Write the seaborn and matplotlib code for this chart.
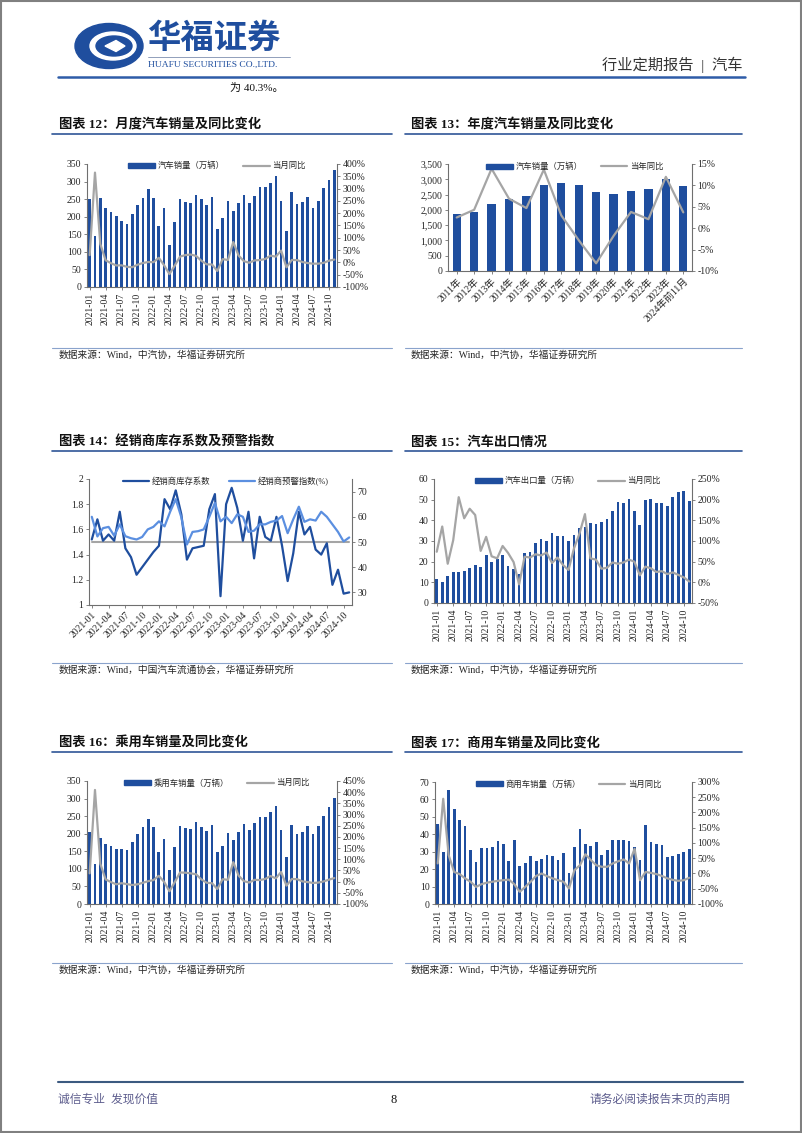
import numpy as np
import matplotlib
matplotlib.use('Agg')
import matplotlib.pyplot as plt
import seaborn as sns
from matplotlib.patches import Patch, Ellipse, Rectangle, Polygon
from matplotlib.lines import Line2D
from matplotlib.ticker import FuncFormatter, MultipleLocator

sns.set_style('ticks')
plt.rcParams['font.family'] = ['Liberation Serif', 'Noto Sans CJK SC']
plt.rcParams['axes.unicode_minus'] = False

BLUE = '#1f4e9e'
GRAY = '#a5a5a5'
LIGHT = '#5b8fe0'

# ---- data ----
months = [f'{y}-{m:02d}' for y in range(2021, 2025) for m in range(1, 13)][:47]
tick_months = months[::3]

# 图表12 汽车销量(万辆) / 当月同比(%)
car_sales = [250.3, 145.5, 252.6, 225.2, 212.8, 201.5, 186.4, 179.9, 206.7, 233.2, 252.2, 278.6,
             253.1, 173.7, 223.4, 118.1, 186.2, 250.2, 242.0, 238.3, 261.0, 250.5, 232.6, 255.6,
             164.9, 197.6, 245.1, 215.9, 238.2, 262.2, 238.7, 258.2, 285.8, 285.3, 297.0, 315.6,
             243.9, 158.4, 269.4, 235.9, 241.7, 255.3, 226.2, 245.3, 280.9, 305.3, 331.7]
car_yoy = [29.5, 365.0, 74.9, 8.6, -3.1, -12.4, -11.9, -17.8, -19.6, -9.4, -2.5, 1.6,
           0.9, 18.7, -11.7, -47.6, -12.6, 23.8, 29.7, 32.1, 26.4, 6.9, -7.9, -8.4,
           -35.0, 13.5, 9.7, 82.7, 27.9, 4.8, -1.4, 8.2, 9.5, 13.8, 27.4, 23.5,
           47.9, -19.9, 9.9, 9.3, 1.5, -2.7, -5.2, -5.0, -1.7, 7.0, 11.7]

# 图表13 年度汽车销量
years = ['2011年', '2012年', '2013年', '2014年', '2015年', '2016年', '2017年', '2018年',
         '2019年', '2020年', '2021年', '2022年', '2023年', '2024年前11月']
annual_sales = [1850.5, 1930.6, 2198.4, 2349.2, 2459.8, 2802.8, 2887.9, 2808.1,
                2576.9, 2531.1, 2627.5, 2686.4, 3009.4, 2790.0]
annual_yoy = [2.5, 4.3, 13.9, 6.9, 4.7, 13.7, 3.0, -2.8, -8.2, -1.8, 3.8, 2.1, 12.0, 3.7]

# 图表14 经销商库存系数 / 预警指数
inventory = [1.52, 1.68, 1.51, 1.56, 1.51, 1.74, 1.45, 1.38, 1.24, 1.30, 1.36, 1.42,
             1.47, 1.84, 1.76, 1.91, 1.72, 1.36, 1.45, 1.46, 1.47, 1.76, 1.88, 1.07,
             1.80, 1.93, 1.77, 1.51, 1.74, 1.37, 1.70, 1.54, 1.51, 1.70, 1.47, 1.19,
             1.41, 1.74, 1.56, 1.62, 1.44, 1.40, 1.49, 1.16, 1.28, 1.09, 1.10]
warn_index = [60.0, 52.2, 55.5, 56.0, 52.5, 57.0, 52.3, 51.5, 51.0, 52.0, 55.0, 56.0,
              58.2, 56.2, 62.0, 67.0, 59.8, 49.0, 54.0, 54.3, 55.0, 60.0, 65.5, 58.2,
              60.0, 57.5, 61.0, 60.0, 54.0, 54.5, 57.0, 57.0, 58.0, 58.5, 60.3, 53.5,
              59.0, 64.0, 58.0, 59.0, 58.5, 62.0, 60.0, 57.0, 54.0, 50.2, 51.8]
warn_line = 1.5

# 图表15 汽车出口量(万辆) / 当月同比
export = [11.7, 10.3, 13.1, 14.9, 15.0, 15.5, 17.0, 18.6, 17.2, 23.2, 19.9, 21.5,
          23.1, 18.0, 16.6, 13.8, 24.2, 24.9, 28.8, 30.8, 30.1, 33.7, 32.5, 32.3,
          30.1, 32.9, 36.1, 37.0, 38.6, 38.0, 39.3, 40.7, 44.4, 48.9, 48.4, 50.1,
          44.3, 37.9, 50.0, 50.3, 48.5, 48.5, 46.9, 51.3, 53.9, 54.3, 49.3]
export_yoy = [74, 135, 45, 102, 206, 155, 178, 163, 76, 110, 63, 58,
              88, 71, 49, -5, 62, 60, 68, 65, 72, 47, 60, 42,
              30, 82, 118, 165, 58, 55, 33, 35, 48, 45, 48, 55,
              50, 17, 38, 34, 25, 27, 20, 24, 18, 12, 2]

# 图表16 乘用车销量
pv_sales = [204.4, 114.8, 187.7, 170.3, 164.8, 156.1, 155.1, 154.7, 175.5, 200.6, 219.9, 242.4,
            218.6, 148.7, 186.3, 96.5, 161.2, 222.2, 217.4, 212.6, 233.2, 220.4, 207.9, 224.9,
            147.4, 164.9, 201.6, 180.8, 204.2, 226.7, 209.5, 229.2, 248.4, 247.8, 260.8, 279.8,
            211.3, 134.8, 225.5, 199.9, 205.6, 222.1, 197.9, 221.0, 251.3, 275.0, 301.6]
pv_yoy = [37, 410, 80, 10, -2, -12, -7, -11, -15, -12, -5, 2,
          7, 26, -1, -43, -2, 41, 40, 37, 33, 10, -5, -7,
          -33, 11, 8, 87, 27, 2, -4, 8, 7, 12, 25, 15,
          43, -18, 12, 11, 1, -2, -6, -4, 1, 9, 16]

# 图表17 商用车销量
cv_sales = [45.8, 29.8, 65.2, 54.7, 48.1, 44.6, 30.9, 24.2, 31.9, 32.2, 32.8, 36.0,
            34.7, 24.8, 37.0, 21.7, 23.7, 27.8, 24.6, 26.1, 28.0, 27.5, 25.2, 29.0,
            17.9, 32.5, 43.3, 34.7, 33.0, 35.3, 28.4, 30.9, 37.0, 36.6, 36.6, 36.4,
            32.5, 25.2, 45.6, 35.7, 34.3, 33.6, 27.1, 27.5, 28.6, 29.9, 31.8]
cv_yoy = [33, 245, 60, 5, -2, -16, -27, -44, -35, -30, -27, -24,
          -22, -20, -35, -60, -44, -27, -8, 0, -9, -16, -22, -27,
          -49, 11, 27, 63, 44, 27, 22, 22, 33, 40, 46, 33,
          81, -22, 5, 2, -2, -8, -16, -21, -24, -22, -14]

# ---- figure ----
W, H = 802, 1133
fig = plt.figure(figsize=(W / 100, H / 100), dpi=100)
page = fig.add_axes([0, 0, 1, 1])
page.set_xlim(0, W)
page.set_ylim(H, 0)
page.axis('off')


def box(l, t, r, b):
    return fig.add_axes([l / W, 1 - b / H, (r - l) / W, (b - t) / H])


def style(ax, ax2):
    for a in (ax, ax2):
        a.spines['top'].set_visible(False)
        for s in a.spines.values():
            s.set_color('#6f6f6f')
            s.set_linewidth(0.8)
        a.tick_params(direction='out', length=2.5, width=0.6, color='#6f6f6f',
                      labelcolor='#262626', labelsize=7, pad=1.5)
        a.set_xlabel('')
        a.set_ylabel('')
    ax.spines['right'].set_visible(False)
    ax2.spines['left'].set_visible(False)
    ax2.spines['bottom'].set_visible(False)


def add_legend(ax, handles, labels):
    ax.legend(handles, labels, loc='upper center', bbox_to_anchor=(0.52, 1.045), ncol=2,
              frameon=False, prop={'size': 6}, handlelength=3.2, handleheight=0.5,
              columnspacing=2.2, handletextpad=0.3, borderaxespad=0)


def pct(v, p):
    return f'{v:.0f}%'


def monthly_bars(pos, sales, yoy, bar_name, ylim, ystep, y2lim, y2step):
    ax = box(*pos)
    sns.barplot(x=months, y=sales, color=BLUE, saturation=1, width=0.5, errorbar=None,
                linewidth=0, ax=ax)
    ax2 = ax.twinx()
    sns.lineplot(x=np.arange(len(months)), y=yoy, color=GRAY, lw=1.6, ax=ax2)
    ax.set_xlim(-0.5, len(months) - 0.5)
    ax.set_ylim(*ylim)
    ax.yaxis.set_major_locator(MultipleLocator(ystep))
    ax2.set_ylim(*y2lim)
    ax2.yaxis.set_major_locator(MultipleLocator(y2step))
    ax2.yaxis.set_major_formatter(FuncFormatter(pct))
    ax.set_xticks(range(0, len(months), 3), tick_months, rotation=90)
    style(ax, ax2)
    add_legend(ax2, [Patch(color=BLUE), Line2D([], [], color=GRAY, lw=1.6)], [bar_name, '当月同比'])
    return ax, ax2


# 图表12
monthly_bars((87, 164, 337, 287), car_sales, car_yoy, '汽车销量（万辆）', (0, 350), 50, (-100, 400), 50)

# 图表13
ax = box(448, 164, 692, 271)
sns.barplot(x=years, y=annual_sales, color=BLUE, saturation=1, width=0.47, errorbar=None,
            linewidth=0, ax=ax)
ax2 = ax.twinx()
sns.lineplot(x=np.arange(len(years)), y=annual_yoy, color=GRAY, lw=1.6, ax=ax2)
ax.set_xlim(-0.5, len(years) - 0.5)
ax.set_ylim(0, 3500)
ax.yaxis.set_major_locator(MultipleLocator(500))
ax.yaxis.set_major_formatter(FuncFormatter(lambda v, p: f'{v:,.0f}'))
ax2.set_ylim(-10, 15)
ax2.yaxis.set_major_locator(MultipleLocator(5))
ax2.yaxis.set_major_formatter(FuncFormatter(pct))
style(ax, ax2)
ax.set_xticks(range(len(years)), years, rotation=45, ha='right', rotation_mode='anchor')
add_legend(ax2, [Patch(color=BLUE), Line2D([], [], color=GRAY, lw=1.6)], ['汽车销量（万辆）', '当年同比'])

# 图表14
ax = box(89, 479, 352, 605)
xi = np.arange(len(months))
sns.lineplot(x=xi, y=[warn_line] * len(months), color=GRAY, lw=1.5, ax=ax)
sns.lineplot(x=xi, y=inventory, color=BLUE, lw=1.6, ax=ax)
ax2 = ax.twinx()
sns.lineplot(x=xi, y=warn_index, color=LIGHT, lw=1.6, ax=ax2)
ax.set_xlim(-0.5, len(months) - 0.5)
ax.set_ylim(1, 2)
ax.yaxis.set_major_locator(MultipleLocator(0.2))
ax.yaxis.set_major_formatter(FuncFormatter(lambda v, p: f'{v:g}'))
ax2.set_ylim(25, 75)
ax2.yaxis.set_major_locator(MultipleLocator(10))
style(ax, ax2)
ax.set_xticks(range(0, len(months), 3), tick_months, rotation=45, ha='right', rotation_mode='anchor')
add_legend(ax2, [Line2D([], [], color=BLUE, lw=1.6), Line2D([], [], color=LIGHT, lw=1.6)],
           ['经销商库存系数', '经销商预警指数(%)'])

# 图表15
monthly_bars((434, 479, 692, 603), export, export_yoy, '汽车出口量（万辆）', (0, 60), 10, (-50, 250), 50)

# 图表16
monthly_bars((87, 781, 337, 904), pv_sales, pv_yoy, '乘用车销量（万辆）', (0, 350), 50, (-100, 450), 50)

# 图表17
monthly_bars((435, 782, 692, 904), cv_sales, cv_yoy, '商用车销量（万辆）', (0, 70), 10, (-100, 300), 50)


# ---- page decorations ----
def block(col, y_title, y_src, title, src):
    x0 = 59 if col == 0 else 411
    l, r = (52, 392) if col == 0 else (405, 742)
    page.text(x0, y_title, title, fontsize=9.5, fontweight='bold', va='center', color='#111111')
    page.plot([l, r], [y_title + 9, y_title + 9], color='#2f5597', lw=1.2)
    page.plot([l, r], [y_src - 7, y_src - 7], color='#8aa3cc', lw=0.8)
    page.text(x0, y_src, src, fontsize=7, va='center', color='#262626')


src_caam = '数据来源：Wind，中汽协，华福证券研究所'
block(0, 125, 355, '图表 12：月度汽车销量及同比变化', src_caam)
block(1, 125, 355, '图表 13：年度汽车销量及同比变化', src_caam)
block(0, 442, 670, '图表 14：经销商库存系数及预警指数', '数据来源：Wind，中国汽车流通协会，华福证券研究所')
block(1, 442, 670, '图表 15：汽车出口情况', src_caam)
block(0, 743, 970, '图表 16：乘用车销量及同比变化', src_caam)
block(1, 743, 970, '图表 17：商用车销量及同比变化', src_caam)

# header logo
page.add_patch(Ellipse((109, 46), 68, 45, color=BLUE))
page.add_patch(Ellipse((113, 46), 46, 28, color='white'))
page.add_patch(Ellipse((114, 46), 36, 20, color=BLUE))
page.add_patch(Polygon([[105, 46], [116, 40.5], [125, 46], [116, 51.5]], closed=True, color='white'))
page.text(147, 39, '华福证券', fontsize=24, fontweight='bold', color=BLUE, va='center')
page.plot([148, 290], [57, 57], color='#7f8fb0', lw=0.6)
page.text(148, 65, 'HUAFU SECURITIES CO.,LTD.', fontsize=6.8, color=BLUE, va='center')
page.text(742, 65, '行业定期报告  |  汽车', fontsize=11, color='#333333', va='center', ha='right')
page.plot([58, 745], [77, 77], color='#2e5ca8', lw=1.8)
page.text(230, 88, '为 40.3%。', fontsize=8, color='#111111', va='center')

# footer
page.plot([58, 743], [1082, 1082], color='#3c5a80', lw=1.5)
page.text(58, 1100, '诚信专业  发现价值', fontsize=8.5, color='#5e5e8e', va='center')
page.text(394, 1100, '8', fontsize=9, color='#111111', va='center', ha='center')
page.text(730, 1100, '请务必阅读报告末页的声明', fontsize=8.5, color='#5e5e8e', va='center', ha='right')
page.add_patch(Rectangle((1, 1), W - 2, H - 2, fill=False, edgecolor='#808080', lw=1.5))

fig.savefig('out.png', dpi=100)
